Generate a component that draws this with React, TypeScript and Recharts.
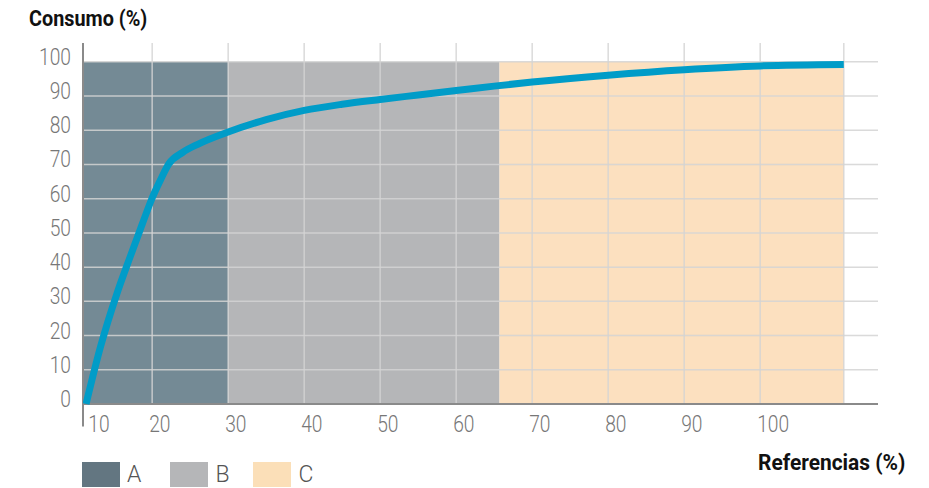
import React from 'react';
import {
  ComposedChart,
  Line,
  XAxis,
  YAxis,
  ReferenceArea,
  ReferenceLine,
} from 'recharts';

// ---- data ----
const referencias = [11.3, 13.2, 15.4, 17.1, 18.7, 20.0, 21.1, 22.2, 24.0, 26.0, 30.0, 35.0, 40.0, 45.0, 50.0, 55.0, 60.0, 65.0, 70.0, 80.0, 90.0, 100.0, 111.0];
const consumo = [0, 16.7, 32.5, 43.0, 52.6, 60.2, 65.5, 70.2, 73.5, 75.9, 79.5, 83.1, 85.8, 87.6, 89.0, 90.3, 91.6, 92.9, 94.1, 96.1, 97.7, 98.8, 99.2];

const gridTicks = [20, 30, 40, 50, 60, 70, 80, 90, 100, 111];
const xLabelTicks = [12, 20, 30, 40, 50, 60, 70, 80, 90, 100];
const xLabels = ['10', '20', '30', '40', '50', '60', '70', '80', '90', '100'];
const yTicks = [0, 10, 20, 30, 40, 50, 60, 70, 80, 90, 100];

const zoneNames = ['A', 'B', 'C'];
const zoneStart = [10.9, 30, 65.7];
const zoneEnd = [30, 65.7, 111];
const zoneColors = ['#748a95', '#b5b6b8', '#fce0bf'];
const legendColors = ['#637681', '#b5b6b8', '#fbdfb8'];

const X_MIN = 10.9;
const X_MAX = 115.5;
const Y_MAX = 105.5;

const chartData = referencias.map((x, i) => ({ x, y: consumo[i] }));

const TICK_FONT = 'Roboto, "Noto Sans", sans-serif';
const GRID_COLOR = '#d4d4d4';

const YTick = (props: any) => {
  const { x, y, payload } = props;
  return (
    <g transform={`translate(${x},${y})`}>
      <text
        transform="scale(0.8,1)"
        textAnchor="end"
        dy={3}
        fontFamily={TICK_FONT}
        fontWeight={300}
        fontSize={24}
        fill="#777"
      >
        {payload.value}
      </text>
    </g>
  );
};

const XTick = (props: any) => {
  const { x, y, payload } = props;
  const idx = xLabelTicks.indexOf(payload.value);
  const label = idx >= 0 ? xLabels[idx] : '';
  return (
    <g transform={`translate(${x - 3},${y})`}>
      <text
        transform="scale(0.8,1)"
        textAnchor="start"
        dy={28}
        fontFamily={TICK_FONT}
        fontWeight={300}
        fontSize={24}
        fill="#777"
      >
        {label}
      </text>
    </g>
  );
};

const boldText: React.CSSProperties = {
  position: 'absolute',
  fontFamily: 'Roboto, sans-serif',
  fontWeight: 700,
  fontSize: 22,
  lineHeight: '22px',
  color: '#111',
  whiteSpace: 'nowrap',
  transformOrigin: 'left top',
};

export default function App() {
  return (
    <div style={{ position: 'relative', width: 921, height: 480 }}>
      <div style={{ ...boldText, left: 21, top: 0, transform: 'scaleX(0.9)' }}>Consumo (%)</div>
      <ComposedChart
        width={921}
        height={480}
        data={chartData}
        margin={{ top: 35, right: 51, left: 0, bottom: 54 }}
      >
        <XAxis
          xAxisId="grid"
          dataKey="x"
          type="number"
          domain={[X_MIN, X_MAX]}
          ticks={gridTicks}
          allowDataOverflow
          height={0}
          tick={false}
          tickLine={false}
          axisLine={false}
        />
        <XAxis
          xAxisId="lab"
          dataKey="x"
          type="number"
          domain={[X_MIN, X_MAX]}
          ticks={xLabelTicks}
          allowDataOverflow
          height={30}
          interval={0}
          tick={<XTick />}
          tickLine={false}
          tickSize={0}
          tickMargin={0}
          axisLine={false}
        />
        <YAxis
          type="number"
          domain={[0, Y_MAX]}
          ticks={yTicks}
          interval={0}
          width={75}
          tick={<YTick />}
          tickLine={false}
          tickSize={0}
          tickMargin={12}
          axisLine={false}
        />
        {zoneNames.map((n, i) => (
          <ReferenceArea
            key={n}
            xAxisId="grid"
            x1={zoneStart[i]}
            x2={zoneEnd[i]}
            y1={0}
            y2={100}
            fill={zoneColors[i]}
            fillOpacity={1}
            stroke="none"
            ifOverflow="hidden"
          />
        ))}
        {gridTicks.map((v) => (
          <ReferenceLine
            key={'gx' + v}
            xAxisId="grid"
            x={v}
            stroke={GRID_COLOR}
            strokeWidth={1.5}
            strokeOpacity={0.85}
          />
        ))}
        {yTicks.map((v) => (
          <ReferenceLine
            key={'gy' + v}
            xAxisId="grid"
            y={v}
            stroke={GRID_COLOR}
            strokeWidth={1.5}
            strokeOpacity={0.85}
          />
        ))}
        <ReferenceLine xAxisId="grid" y={0} stroke="#8a8a8a" strokeWidth={2} />
        <ReferenceLine
          xAxisId="grid"
          segment={[{ x: X_MIN, y: Y_MAX }, { x: X_MIN, y: -6.6 }]}
          stroke="#8a8a8a"
          strokeWidth={2}
          ifOverflow="visible"
        />
        <Line
          xAxisId="grid"
          dataKey="y"
          type="monotone"
          stroke="#009cc8"
          strokeWidth={7}
          dot={false}
          activeDot={false}
          isAnimationActive={false}
        />
      </ComposedChart>
      <div style={{ ...boldText, left: 750, top: 444, transform: 'scaleX(0.95)' }}>Referencias (%)</div>
      <div style={{ position: 'absolute', left: 74, top: 454, display: 'flex', alignItems: 'center' }}>
        {zoneNames.map((n, i) => (
          <div key={n} style={{ display: 'flex', alignItems: 'center', marginRight: i === 0 ? 29 : 24 }}>
            <div style={{ width: 38, height: 25, background: legendColors[i] }} />
            <div
              style={{
                marginLeft: 7,
                fontFamily: 'Roboto, sans-serif',
                fontWeight: 300,
                fontSize: 23,
                lineHeight: '25px',
                color: '#555',
              }}
            >
              {n}
            </div>
          </div>
        ))}
      </div>
    </div>
  );
}
